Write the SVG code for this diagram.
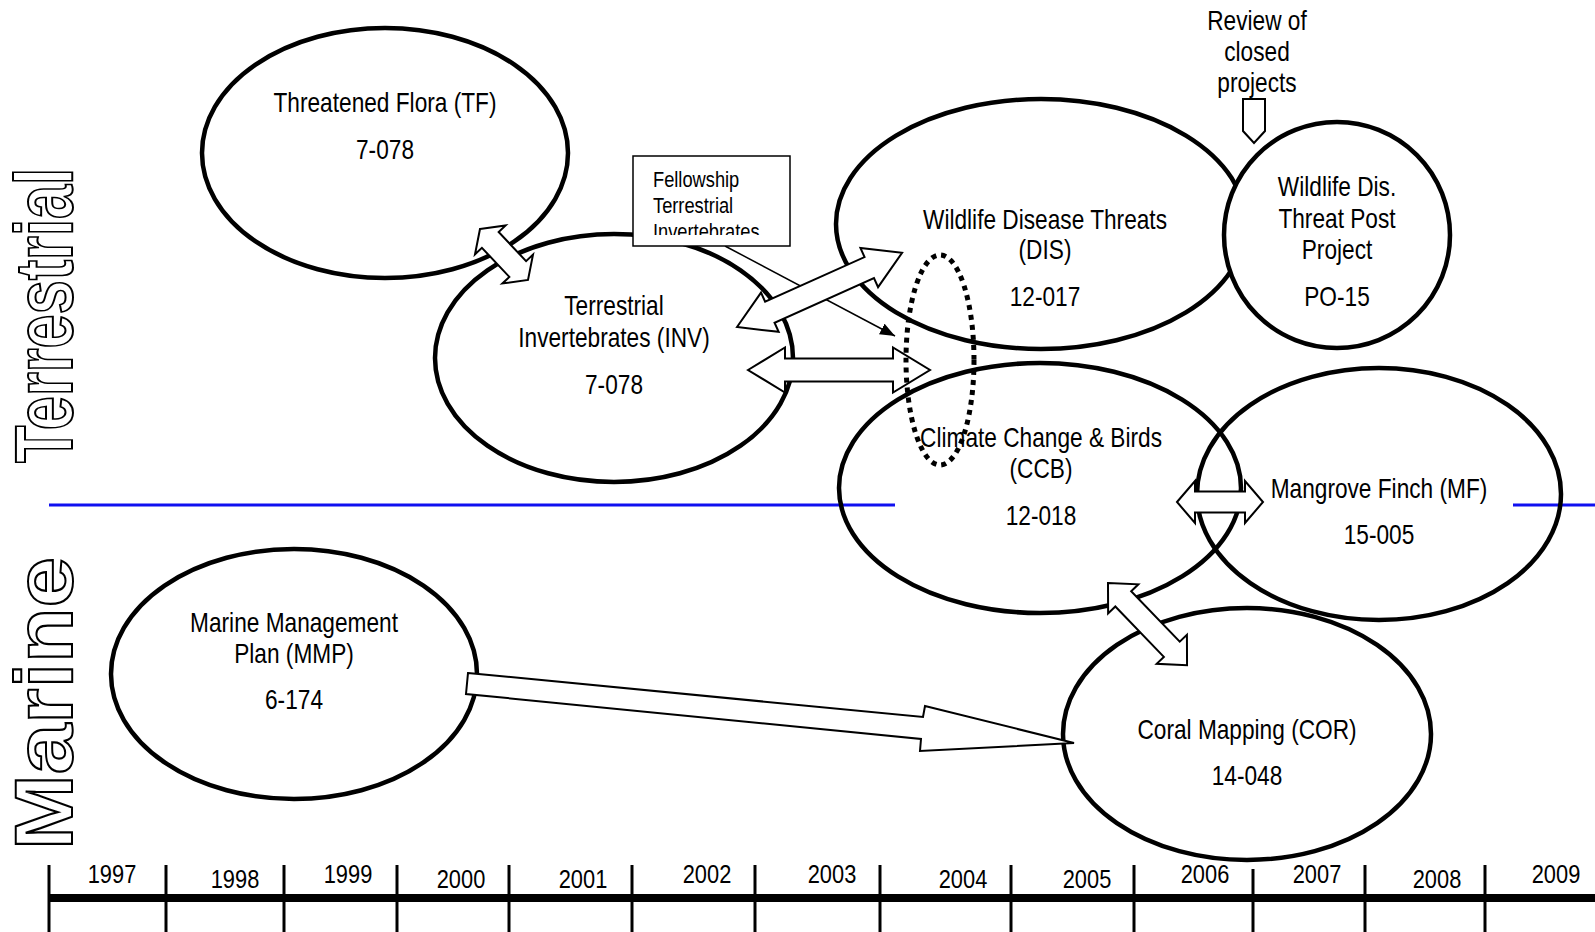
<svg xmlns="http://www.w3.org/2000/svg" width="1595" height="932" viewBox="0 0 1595 932">
<style>
.ell{fill:none;stroke:#000;stroke-width:4.5}
.ellw{fill:#fff;stroke:#000;stroke-width:4.5}
.blk{fill:#fff;stroke:#000;stroke-width:2;stroke-linejoin:miter}
.t{font-family:"Liberation Sans Narrow","Liberation Sans",Arial,sans-serif;font-size:27px;text-anchor:middle;fill:#000}
.ft{font-family:"Liberation Sans Narrow","Liberation Sans",Arial,sans-serif;font-size:21.5px;fill:#000}
.yr{font-family:"Liberation Sans Narrow","Liberation Sans",Arial,sans-serif;font-size:26px;text-anchor:middle;fill:#000}
.side{font-family:"Liberation Sans",Arial,sans-serif;font-weight:bold;font-size:82px;fill:#fff;stroke:#000;stroke-width:2}
.tick{stroke:#000;stroke-width:3}
</style>
<defs>
<marker id="ah" markerWidth="16" markerHeight="12" refX="15" refY="6" orient="auto" markerUnits="userSpaceOnUse">
<path d="M0,0 L15,6 L0,12 z" fill="#000"/>
</marker>
<clipPath id="boxclip"><rect x="633" y="156" width="157" height="79"/></clipPath>
</defs>

<!-- side labels -->
<text class="side" transform="translate(72,463) rotate(-90)" textLength="295" lengthAdjust="spacingAndGlyphs">Terrestrial</text>
<text class="side" transform="translate(72,850) rotate(-90)" textLength="293" lengthAdjust="spacingAndGlyphs">Marine</text>

<!-- blue divider -->
<g id="divider">
<line x1="49" y1="505" x2="895" y2="505" stroke="#1010f0" stroke-width="3"/>
<line x1="1513" y1="505" x2="1595" y2="505" stroke="#1010f0" stroke-width="3"/>
</g>

<g id="node-TF">
<ellipse class="ell" cx="385" cy="153" rx="183" ry="125"/>
<text class="t" transform="matrix(0.84,0,0,1,385,0)" y="112">Threatened Flora (TF)</text>
<text class="t" transform="matrix(0.84,0,0,1,385,0)" y="159">7-078</text>
</g>

<g id="node-INV">
<ellipse class="ell" cx="614" cy="358" rx="179" ry="124"/>
<text class="t" transform="matrix(0.84,0,0,1,614,0)" y="315">Terrestrial</text>
<text class="t" transform="matrix(0.84,0,0,1,614,0)" y="347">Invertebrates (INV)</text>
<text class="t" transform="matrix(0.84,0,0,1,614,0)" y="394">7-078</text>
</g>

<g id="node-DIS">
<ellipse class="ell" cx="1041" cy="224" rx="205" ry="125"/>
<text class="t" transform="matrix(0.84,0,0,1,1045,0)" y="229">Wildlife Disease Threats</text>
<text class="t" transform="matrix(0.84,0,0,1,1045,0)" y="259">(DIS)</text>
<text class="t" transform="matrix(0.84,0,0,1,1045,0)" y="306">12-017</text>
</g>

<g id="node-PO">
<ellipse class="ellw" cx="1337" cy="235" rx="113" ry="113"/>
<text class="t" transform="matrix(0.84,0,0,1,1337,0)" y="196">Wildlife Dis.</text>
<text class="t" transform="matrix(0.84,0,0,1,1337,0)" y="228">Threat Post</text>
<text class="t" transform="matrix(0.84,0,0,1,1337,0)" y="259">Project</text>
<text class="t" transform="matrix(0.84,0,0,1,1337,0)" y="306">PO-15</text>
</g>

<g id="node-CCB">
<ellipse class="ell" cx="1040" cy="488" rx="201" ry="125"/>
<text class="t" transform="matrix(0.84,0,0,1,1041,0)" y="447">Climate Change &amp; Birds</text>
<text class="t" transform="matrix(0.84,0,0,1,1041,0)" y="478">(CCB)</text>
<text class="t" transform="matrix(0.84,0,0,1,1041,0)" y="525">12-018</text>
</g>

<g id="node-MF">
<ellipse class="ell" cx="1379" cy="494" rx="182" ry="126"/>
<text class="t" transform="matrix(0.84,0,0,1,1379,0)" y="498">Mangrove Finch (MF)</text>
<text class="t" transform="matrix(0.84,0,0,1,1379,0)" y="544">15-005</text>
</g>

<g id="node-MMP">
<ellipse class="ell" cx="294" cy="674" rx="183" ry="125"/>
<text class="t" transform="matrix(0.84,0,0,1,294,0)" y="632">Marine Management</text>
<text class="t" transform="matrix(0.84,0,0,1,294,0)" y="663">Plan (MMP)</text>
<text class="t" transform="matrix(0.84,0,0,1,294,0)" y="709">6-174</text>
</g>

<g id="node-COR">
<ellipse class="ell" cx="1247" cy="734" rx="184" ry="126"/>
<text class="t" transform="matrix(0.84,0,0,1,1247,0)" y="739">Coral Mapping (COR)</text>
<text class="t" transform="matrix(0.84,0,0,1,1247,0)" y="785">14-048</text>
</g>

<g id="node-review">
<text class="t" transform="matrix(0.84,0,0,1,1257,0)" y="30">Review of</text>
<text class="t" transform="matrix(0.84,0,0,1,1257,0)" y="61">closed</text>
<text class="t" transform="matrix(0.84,0,0,1,1257,0)" y="92">projects</text>
<polygon class="blk" points="1243,99 1265,99 1265,131 1254,143 1243,131" stroke-width="1.5"/>
</g>

<g id="connectors">
<line x1="725" y1="246" x2="895" y2="336" stroke="#000" stroke-width="1.5" marker-end="url(#ah)"/>
<polygon class="blk" transform="translate(480,229) rotate(46.7)" points="0,0 15,-21 15,-11.5 55,-11.5 55,-21 70,0 55,21 55,11.5 15,11.5 15,21"/>
<polygon class="blk" transform="translate(737,327) rotate(-24.2)" points="0,0 36,-21.5 36,-11.5 145,-11.5 145,-21.5 181,0 145,21.5 145,11.5 36,11.5 36,21.5"/>
<polygon class="blk" transform="translate(748,370)" points="0,0 37,-22.5 37,-11.5 145,-11.5 145,-22.5 182,0 145,22.5 145,11.5 37,11.5 37,22.5"/>
<polygon class="blk" transform="translate(1177,502)" points="0,0 18,-21 18,-10.5 68,-10.5 68,-21 86,0 68,21 68,10.5 18,10.5 18,21"/>
<polygon class="blk" transform="translate(1108,583) rotate(46.1)" points="0,0 22,-21 22,-11 92,-11 92,-21 114,0 92,21 92,11 22,11 22,21"/>
<polygon class="blk" points="468,673 923,717 925,706 1074,743 920,751 921,739 466,694"/>
</g>

<g id="node-fellowship">
<rect x="633" y="156" width="157" height="90" fill="#fff" stroke="#000" stroke-width="1.5"/>
<g clip-path="url(#boxclip)">
<text class="ft" transform="matrix(0.85,0,0,1,653,0)" y="187">Fellowship</text>
<text class="ft" transform="matrix(0.85,0,0,1,653,0)" y="213">Terrestrial</text>
<text class="ft" transform="matrix(0.85,0,0,1,653,0)" y="239">Invertebrates</text>
</g>
</g>

<g id="node-group">
<ellipse cx="940" cy="360" rx="34" ry="105" fill="none" stroke="#000" stroke-width="5" stroke-dasharray="5 5"/>
</g>

<g id="timeline">
<line x1="49" y1="898" x2="1595" y2="898" stroke="#000" stroke-width="8"/>
<line class="tick" x1="49" y1="865" x2="49" y2="932"/>
<line class="tick" x1="166" y1="865" x2="166" y2="932"/>
<line class="tick" x1="284" y1="865" x2="284" y2="932"/>
<line class="tick" x1="397" y1="865" x2="397" y2="932"/>
<line class="tick" x1="509" y1="865" x2="509" y2="932"/>
<line class="tick" x1="632" y1="865" x2="632" y2="932"/>
<line class="tick" x1="755" y1="865" x2="755" y2="932"/>
<line class="tick" x1="880" y1="865" x2="880" y2="932"/>
<line class="tick" x1="1011" y1="865" x2="1011" y2="932"/>
<line class="tick" x1="1134" y1="865" x2="1134" y2="932"/>
<line class="tick" x1="1253" y1="869" x2="1253" y2="932"/>
<line class="tick" x1="1365" y1="865" x2="1365" y2="932"/>
<line class="tick" x1="1485" y1="865" x2="1485" y2="932"/>
<text class="yr" transform="matrix(0.84,0,0,1,112,0)" y="883">1997</text>
<text class="yr" transform="matrix(0.84,0,0,1,235,0)" y="888">1998</text>
<text class="yr" transform="matrix(0.84,0,0,1,348,0)" y="883">1999</text>
<text class="yr" transform="matrix(0.84,0,0,1,461,0)" y="888">2000</text>
<text class="yr" transform="matrix(0.84,0,0,1,583,0)" y="888">2001</text>
<text class="yr" transform="matrix(0.84,0,0,1,707,0)" y="883">2002</text>
<text class="yr" transform="matrix(0.84,0,0,1,832,0)" y="883">2003</text>
<text class="yr" transform="matrix(0.84,0,0,1,963,0)" y="888">2004</text>
<text class="yr" transform="matrix(0.84,0,0,1,1087,0)" y="888">2005</text>
<text class="yr" transform="matrix(0.84,0,0,1,1205,0)" y="883">2006</text>
<text class="yr" transform="matrix(0.84,0,0,1,1317,0)" y="883">2007</text>
<text class="yr" transform="matrix(0.84,0,0,1,1437,0)" y="888">2008</text>
<text class="yr" transform="matrix(0.84,0,0,1,1556,0)" y="883">2009</text>
</g>
</svg>
